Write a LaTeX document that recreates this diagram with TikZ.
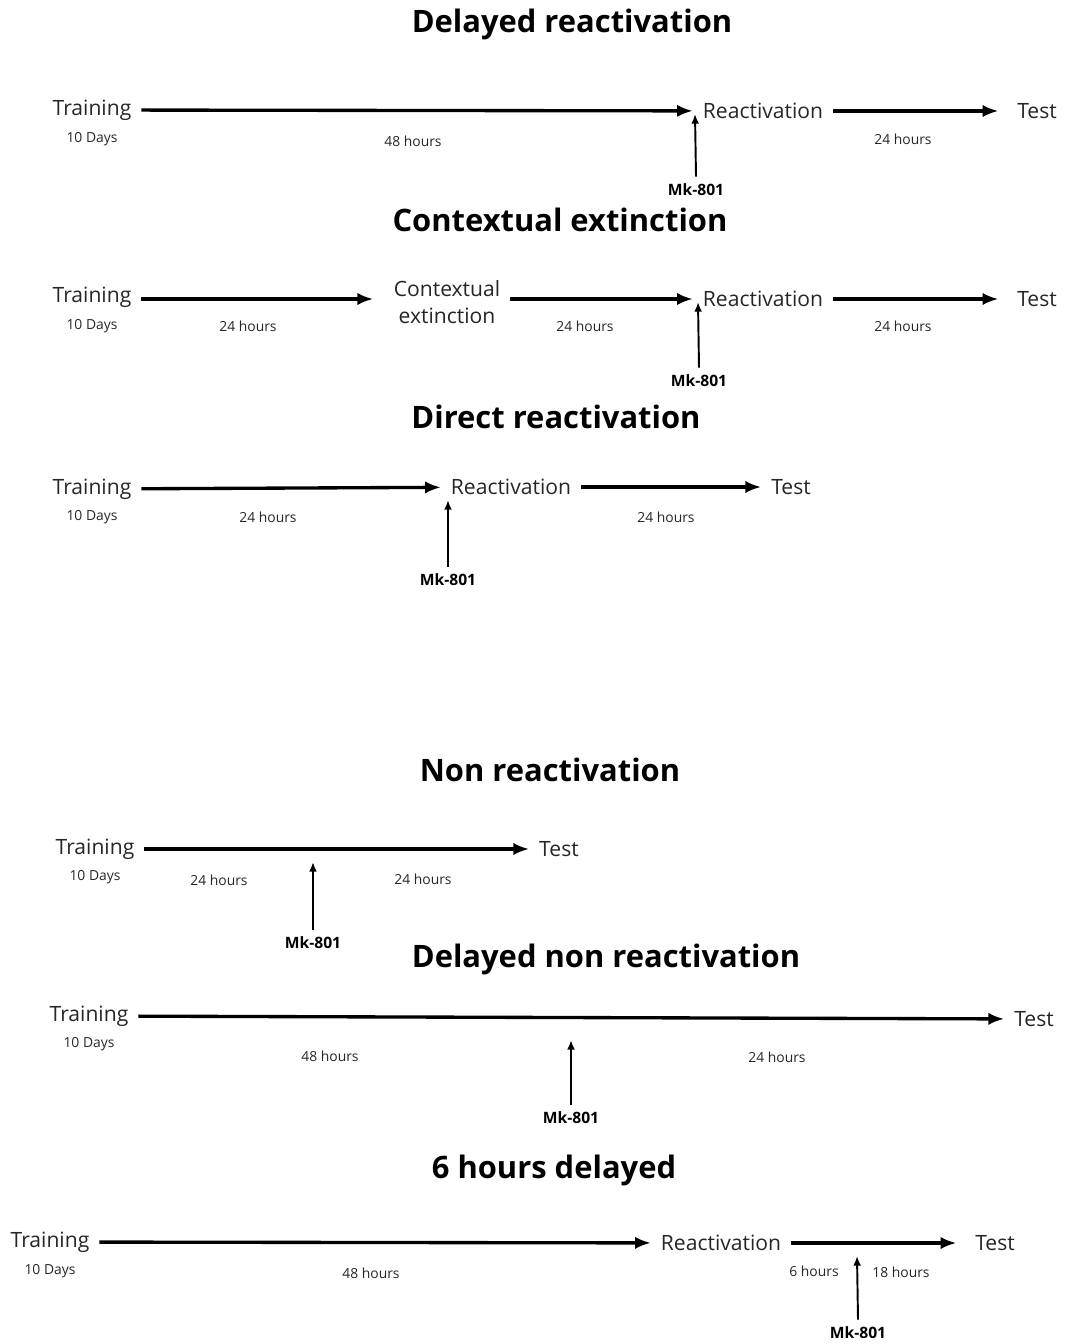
\documentclass[tikz,border=0pt]{standalone}
\usepackage{fontspec}
\setmainfont{Open Sans}
\usetikzlibrary{arrows.meta}

\tikzset{
    stage/.style={inner sep=5.5pt, text=black!85, font=\fontsize{12}{15.3}\selectfont},
    lapse/.style={text=black!85, font=\fontsize{7.9}{9}\selectfont},
    drug/.style={inner sep=4pt, font=\bfseries\fontsize{8.9}{10}\selectfont},
    heading/.style={font=\bfseries\fontsize{17.6}{20}\selectfont},
    timeline/.style={line width=1.9pt, -{Latex[length=9pt,width=7pt]}},
    inject/.style={line width=1.1pt, -{Latex[length=5.5pt,width=4.5pt]}},
}

\begin{document}
\begin{tikzpicture}[x=0.02cm, y=-0.02cm]
    \useasboundingbox (0,0) rectangle (1064,1344);

    % delayed reactivation
    \node[heading] (t1) at (572,24) {Delayed reactivation};
    \node[stage] (train1) at (92,110) {Training};
    \node[stage] (react1) at (763,111) {Reactivation};
    \node[stage] (test1) at (1037,111) {Test};
    \node[lapse] (d1) at (92,139) {10 Days};
    \node[lapse] (h1a) at (413,141) {48 hours};
    \node[lapse] (h1b) at (903,139) {24 hours};
    \node[drug] (mk1) at (696,190) {Mk-801};
    \coordinate (in1) at (695,114);
    \draw[timeline] (train1) -- (react1);
    \draw[timeline, shorten >=5pt] (react1) -- (test1);
    \draw[inject] (mk1.north) -- (in1);

    % contextual extinction
    \node[heading] (t2) at (560,220) {Contextual extinction};
    \node[stage] (train2) at (92,297) {Training};
    \node[stage, align=center] (ext2) at (447,302) {Contextual\\extinction};
    \node[stage] (react2) at (763,299) {Reactivation};
    \node[stage] (test2) at (1037,299) {Test};
    \node[lapse] (d2) at (92,326) {10 Days};
    \node[lapse] (h2a) at (248,326) {24 hours};
    \node[lapse] (h2b) at (585,326) {24 hours};
    \node[lapse] (h2c) at (903,326) {24 hours};
    \node[drug] (mk2) at (699,381) {Mk-801};
    \coordinate (in2) at (698,302);
    \draw[timeline, shorten >=6pt] (train2.east |- react2) -- (ext2.west |- react2);
    \draw[timeline] (ext2.east |- react2) -- (react2);
    \draw[timeline, shorten >=5pt] (react2) -- (test2);
    \draw[inject] (mk2.north) -- (in2);

    % direct reactivation
    \node[heading] (t3) at (556,417) {Direct reactivation};
    \node[stage] (train3) at (92,489) {Training};
    \node[stage] (react3) at (511,487) {Reactivation};
    \node[stage] (test3) at (791,487) {Test};
    \node[lapse] (d3) at (92,517) {10 Days};
    \node[lapse] (h3a) at (268,517) {24 hours};
    \node[lapse] (h3b) at (666,517) {24 hours};
    \node[drug] (mk3) at (448,580) {Mk-801};
    \coordinate (in3) at (448,500);
    \draw[timeline] (train3) -- (react3);
    \draw[timeline] (react3) -- (test3);
    \draw[inject] (mk3.north) -- (in3);

    % non reactivation
    \node[heading] (t4) at (550,770) {Non reactivation};
    \node[stage] (train4) at (95,849) {Training};
    \node[stage] (test4) at (559,849) {Test};
    \node[lapse] (d4) at (95,877) {10 Days};
    \node[lapse] (h4a) at (219,880) {24 hours};
    \node[lapse] (h4b) at (423,879) {24 hours};
    \node[drug] (mk4) at (313,943) {Mk-801};
    \coordinate (in4) at (313,862);
    \draw[timeline] (train4) -- (test4);
    \draw[inject] (mk4.north) -- (in4);

    % delayed non reactivation
    \node[heading] (t5) at (606,959) {Delayed non reactivation};
    \node[stage] (train5) at (89,1016) {Training};
    \node[stage] (test5) at (1034,1019) {Test};
    \node[lapse] (d5) at (89,1044) {10 Days};
    \node[lapse] (h5a) at (330,1056) {48 hours};
    \node[lapse] (h5b) at (777,1057) {24 hours};
    \node[drug] (mk5) at (571,1118) {Mk-801};
    \coordinate (in5) at (571,1040);
    \draw[timeline] (train5) -- (test5);
    \draw[inject] (mk5.north) -- (in5);

    % 6 hours delayed
    \node[heading] (t6) at (554,1170) {6 hours delayed};
    \node[stage] (train6) at (50,1242) {Training};
    \node[stage] (react6) at (721,1243) {Reactivation};
    \node[stage] (test6) at (995,1243) {Test};
    \node[lapse] (d6) at (50,1271) {10 Days};
    \node[lapse] (h6a) at (371,1273) {48 hours};
    \node[lapse] (h6b) at (814,1271) {6 hours};
    \node[lapse] (h6c) at (901,1272) {18 hours};
    \node[drug] (mk6) at (858,1333) {Mk-801};
    \coordinate (in6) at (857,1256);
    \draw[timeline] (train6) -- (react6);
    \draw[timeline, shorten >=5pt] (react6) -- (test6);
    \draw[inject] (mk6.north) -- (in6);
\end{tikzpicture}
\end{document}
